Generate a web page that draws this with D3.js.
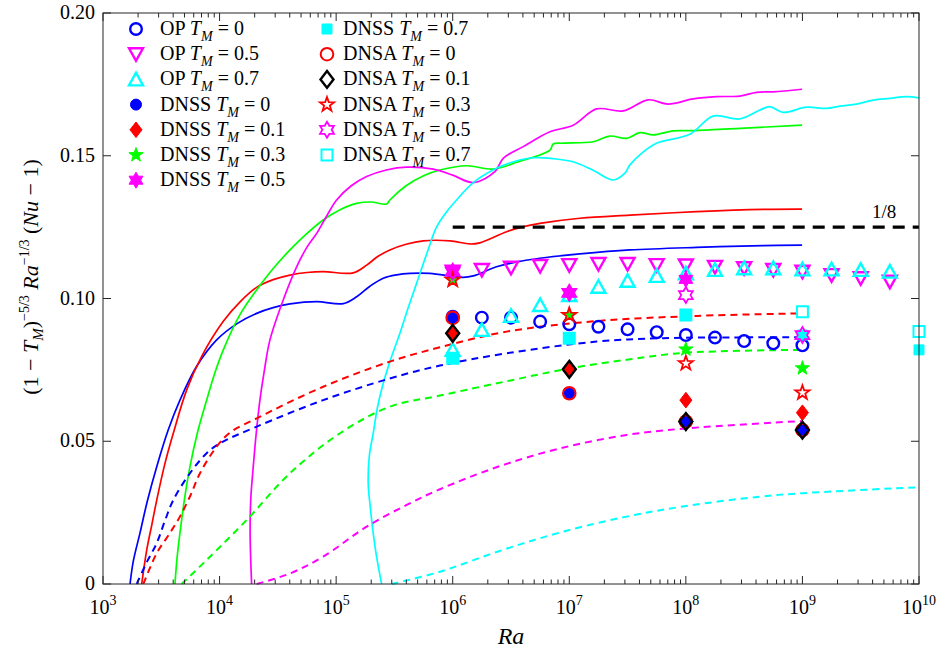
<!DOCTYPE html>
<html>
<head>
<meta charset="utf-8">
<script src="https://cdn.jsdelivr.net/npm/d3@7"></script>
<style>
  body { margin: 0; background: #fff; }
  svg { display: block; }
</style>
</head>
<body>
<svg id="chart"></svg>
<script>
// ---- data (x stored as log10(Ra)) ----
const opLgRa0 = [6, 6.25, 6.5, 6.75, 7, 7.25, 7.5, 7.75, 8, 8.25, 8.5, 8.75, 9];
const opLgRa = [6, 6.25, 6.5, 6.75, 7, 7.25, 7.5, 7.75, 8, 8.25, 8.5, 8.75, 9, 9.25, 9.5, 9.75];
const op0 = [0.0936, 0.0933, 0.0933, 0.0919, 0.0910, 0.0901, 0.0892, 0.0882, 0.0872, 0.0863, 0.0851, 0.0843, 0.0836];
const op05 = [0.1094, 0.1100, 0.1108, 0.1114, 0.1117, 0.1121, 0.1121, 0.1117, 0.1116, 0.1111, 0.1106, 0.1100, 0.1094, 0.1082, 0.1071, 0.1059];
const op07 = [0.0820, 0.0890, 0.0939, 0.0977, 0.1012, 0.1041, 0.1062, 0.1079, 0.1088, 0.1100, 0.1106, 0.1106, 0.1102, 0.1102, 0.1100, 0.1094];

const dnsLgRa = [6, 7, 8, 9];
const dnsLgRa07 = [6, 7, 8, 9, 10];
const dnss0 = [0.0932, 0.0668, 0.0569, 0.0539];
const dnss01 = [0.0878, 0.0752, 0.0644, 0.0600];
const dnss03 = [0.1065, 0.0942, 0.0822, 0.0756];
const dnss05 = [0.1094, 0.1020, 0.1067];
const dnss07 = [0.0791, 0.0861, 0.0942, 0.0872, 0.0820];
const dnsa0 = [0.0932, 0.0668, 0.0569, 0.0539];
const dnsa01 = [0.0878, 0.0752, 0.0569, 0.0539];
const dnsa03 = [0.1065, 0.0942, 0.0773, 0.0670];
const dnsa05 = [0.1094, 0.1020, 0.1012, 0.0872];
const dnsa07 = [0.0791, 0.0861, 0.0942, 0.0954, 0.0884];

// solid curves [log10 Ra, value]
const solidBlue = [[3.232,0],[3.260,0.0080],[3.317,0.0178],[3.380,0.0290],[3.461,0.0411],[3.560,0.0540],[3.660,0.0644],[3.800,0.0760],[3.975,0.0855],[4.150,0.0912],[4.318,0.0948],[4.460,0.0968],[4.604,0.0981],[4.833,0.0989],[5.061,0.0982],[5.176,0.1006],[5.290,0.1043],[5.404,0.1071],[5.520,0.1083],[5.633,0.1088],[5.804,0.1088],[6.090,0.1074],[6.176,0.1079],[6.376,0.1111],[6.550,0.1128],[6.748,0.1141],[7.091,0.1156],[7.520,0.1170],[8.092,0.1179],[8.663,0.1185],[8.997,0.1187]];
const solidRed = [[3.332,0],[3.375,0.0119],[3.420,0.0210],[3.461,0.0294],[3.530,0.0420],[3.603,0.0528],[3.718,0.0680],[3.850,0.0800],[4.032,0.0920],[4.180,0.0990],[4.318,0.1039],[4.460,0.1066],[4.604,0.1082],[4.750,0.1091],[4.889,0.1094],[5.147,0.1090],[5.262,0.1117],[5.360,0.1148],[5.461,0.1170],[5.600,0.1190],[5.747,0.1202],[5.976,0.1202],[6.147,0.1191],[6.233,0.1195],[6.462,0.1234],[6.600,0.1251],[6.748,0.1263],[7.091,0.1281],[7.520,0.1292],[8.092,0.1304],[8.663,0.1312],[8.997,0.1313]];
const solidGreen = [[3.617,0],[3.635,0.0090],[3.660,0.0178],[3.700,0.0300],[3.746,0.0411],[3.810,0.0530],[3.889,0.0644],[3.960,0.0740],[4.032,0.0820],[4.170,0.0940],[4.318,0.1030],[4.460,0.1105],[4.604,0.1170],[4.750,0.1228],[4.889,0.1275],[5.030,0.1310],[5.176,0.1333],[5.300,0.1338],[5.433,0.1331],[5.461,0.1345],[5.600,0.1395],[5.750,0.1430],[5.890,0.1450],[6.119,0.1465],[6.347,0.1453],[6.548,0.1477],[6.834,0.1520],[6.862,0.1541],[6.948,0.1544],[7.205,0.1549],[7.348,0.1569],[7.491,0.1561],[7.606,0.1581],[7.720,0.1573],[7.891,0.1587],[8.063,0.1588],[8.464,0.1596],[8.997,0.1607]];
const solidMagenta = [[4.275,0],[4.262,0.0178],[4.268,0.0300],[4.289,0.0411],[4.315,0.0530],[4.346,0.0644],[4.385,0.0750],[4.432,0.0855],[4.546,0.0995],[4.661,0.1111],[4.750,0.1180],[4.833,0.1228],[4.920,0.1290],[5.004,0.1345],[5.130,0.1395],[5.262,0.1427],[5.430,0.1450],[5.605,0.1460],[5.833,0.1453],[6.000,0.1432],[6.176,0.1406],[6.362,0.1444],[6.433,0.1491],[6.605,0.1532],[6.834,0.1584],[7.033,0.1607],[7.234,0.1664],[7.462,0.1657],[7.677,0.1696],[7.848,0.1681],[8.063,0.1699],[8.263,0.1707],[8.463,0.1709],[8.606,0.1722],[8.749,0.1724],[8.997,0.1733]];
const solidCyan = [[5.390,0],[5.345,0.0100],[5.318,0.0178],[5.290,0.0280],[5.275,0.0353],[5.285,0.0450],[5.318,0.0528],[5.355,0.0620],[5.404,0.0703],[5.470,0.0790],[5.547,0.0878],[5.620,0.0970],[5.690,0.1053],[5.780,0.1160],[5.862,0.1251],[5.950,0.1305],[6.033,0.1345],[6.176,0.1406],[6.376,0.1456],[6.530,0.1480],[6.690,0.1493],[6.860,0.1490],[7.033,0.1479],[7.200,0.1450],[7.377,0.1415],[7.477,0.1439],[7.520,0.1468],[7.630,0.1512],[7.749,0.1544],[8.034,0.1575],[8.234,0.1639],[8.463,0.1629],[8.635,0.1660],[8.720,0.1672],[8.834,0.1652],[9.035,0.1670],[9.207,0.1666],[9.321,0.1674],[9.464,0.1681],[9.606,0.1695],[9.750,0.1701],[9.893,0.1707],[10.0,0.1703]];

// dashed curves
const dashBlue = [[3.289,0],[3.380,0.0080],[3.461,0.0143],[3.530,0.0220],[3.603,0.0294],[3.746,0.0388],[3.889,0.0458],[4.003,0.0493],[4.318,0.0551],[4.889,0.0644],[5.461,0.0720],[5.890,0.0765],[6.462,0.0808],[7.234,0.0849],[7.805,0.0861],[8.663,0.0864],[8.997,0.0864]];
const dashRed = [[3.346,0],[3.461,0.0108],[3.560,0.0170],[3.660,0.0236],[3.750,0.0310],[3.832,0.0388],[3.975,0.0481],[4.089,0.0530],[4.318,0.0580],[4.889,0.0691],[5.461,0.0779],[5.890,0.0829],[6.462,0.0884],[7.234,0.0921],[8.092,0.0939],[8.997,0.0948]];
const dashGreen = [[3.675,0],[3.889,0.0084],[4.232,0.0224],[4.604,0.0388],[5.033,0.0528],[5.461,0.0621],[5.890,0.0660],[6.462,0.0710],[6.999,0.0755],[7.520,0.0787],[8.0,0.0810],[8.997,0.0820]];
const dashMagenta = [[4.318,0],[4.604,0.0037],[4.889,0.0096],[5.262,0.0201],[5.605,0.0277],[5.890,0.0332],[6.405,0.0413],[6.919,0.0475],[7.491,0.0522],[8.0,0.0545],[9.001,0.0571]];
const dashCyan = [[5.476,0],[5.890,0.0043],[6.405,0.0116],[6.919,0.0180],[7.491,0.0236],[8.0,0.0273],[8.635,0.0306],[9.001,0.0318],[10.0,0.0339]];

const refLgRa = [6, 10];
const refValue = 0.125;

const xTickExp = [3, 4, 5, 6, 7, 8, 9, 10];
const yTicks = [0, 0.05, 0.10, 0.15, 0.20];

// ---- setup ----
const width = 940, height = 652;
const margin = { top: 13, right: 21, bottom: 68, left: 103 };
const serif = 'Liberation Serif, Times New Roman, Times, DejaVu Serif, serif';
const svg = d3.select('#chart').attr('width', width).attr('height', height)
    .attr('font-family', serif);

const x = d3.scaleLog().domain([1e3, 1e10]).range([margin.left, width - margin.right]);
const y = d3.scaleLinear().domain([0, 0.2]).range([height - margin.bottom, margin.top]);
const X = lg => x(Math.pow(10, lg));

// marker shapes
function starPath(n, R, r) {
    const pts = [];
    for (let i = 0; i < 2 * n; i++) {
        const a = -Math.PI / 2 + i * Math.PI / n;
        const rad = i % 2 ? r : R;
        pts.push([rad * Math.cos(a), rad * Math.sin(a)]);
    }
    return 'M' + pts.map(p => p[0].toFixed(2) + ',' + p[1].toFixed(2)).join('L') + 'Z';
}
const shapes = {
    circle: r => `M${r},0A${r},${r} 0 1,1 ${-r},0A${r},${r} 0 1,1 ${r},0Z`,
    triDown: s => `M${-s},${-s * 0.85}L${s},${-s * 0.85}L0,${s * 0.95}Z`,
    triUp: s => `M${-s},${s * 0.85}L${s},${s * 0.85}L0,${-s * 0.95}Z`,
    diamond: s => `M0,${-s * 1.3}L${s},0L0,${s * 1.3}L${-s},0Z`,
    square: s => `M${-s},${-s}L${s},${-s}L${s},${s}L${-s},${s}Z`,
    penta: s => starPath(5, s, s * 0.4),
    hexa: s => starPath(6, s, s * 0.58)
};

// series styles
const series = [
    { label: 'OP', tm: '0', lg: opLgRa0, v: op0, shape: 'circle', size: 5.8, fill: 'none', stroke: '#0000ff', sw: 2.4 },
    { label: 'OP', tm: '0.5', lg: opLgRa, v: op05, shape: 'triDown', size: 7, fill: 'none', stroke: '#ff00ff', sw: 2.4 },
    { label: 'OP', tm: '0.7', lg: opLgRa, v: op07, shape: 'triUp', size: 7, fill: 'none', stroke: '#00ffff', sw: 2.4 },
    { label: 'DNSS', tm: '0', lg: dnsLgRa, v: dnss0, shape: 'circle', size: 5.5, fill: '#0000ff', stroke: '#0000ff', sw: 1 },
    { label: 'DNSS', tm: '0.1', lg: dnsLgRa, v: dnss01, shape: 'diamond', size: 6, fill: '#ff0000', stroke: '#ff0000', sw: 1 },
    { label: 'DNSS', tm: '0.3', lg: dnsLgRa, v: dnss03, shape: 'penta', size: 7.5, fill: '#00ff00', stroke: '#00ff00', sw: 1 },
    { label: 'DNSS', tm: '0.5', lg: dnsLgRa, v: dnss05, shape: 'hexa', size: 8, fill: '#ff00ff', stroke: '#ff00ff', sw: 1 },
    { label: 'DNSS', tm: '0.7', lg: dnsLgRa07, v: dnss07, shape: 'square', size: 5, fill: '#00ffff', stroke: '#00ffff', sw: 1 },
    { label: 'DNSA', tm: '0', lg: dnsLgRa, v: dnsa0, shape: 'circle', size: 6.3, fill: 'none', stroke: '#ff0000', sw: 2 },
    { label: 'DNSA', tm: '0.1', lg: dnsLgRa, v: dnsa01, shape: 'diamond', size: 6.5, fill: 'none', stroke: '#000000', sw: 2.4 },
    { label: 'DNSA', tm: '0.3', lg: dnsLgRa, v: dnsa03, shape: 'penta', size: 7.5, fill: 'none', stroke: '#ff0000', sw: 1.8 },
    { label: 'DNSA', tm: '0.5', lg: dnsLgRa, v: dnsa05, shape: 'hexa', size: 8, fill: 'none', stroke: '#ff00ff', sw: 1.8 },
    { label: 'DNSA', tm: '0.7', lg: dnsLgRa07, v: dnsa07, shape: 'square', size: 5.5, fill: 'none', stroke: '#00ffff', sw: 2 }
];

const axisColor = '#262626';
const x0 = margin.left, x1 = width - margin.right, y0 = height - margin.bottom, y1 = margin.top;

// curves
const line = d3.line().curve(d3.curveCatmullRom.alpha(0.5)).x(d => X(d[0])).y(d => y(d[1]));
const straight = d3.line().x(d => X(d[0])).y(d => y(d[1]));
const solids = [[solidBlue, '#0000ff'], [solidRed, '#ff0000'], [solidGreen, '#00ff00'], [solidMagenta, '#ff00ff'], [solidCyan, '#00ffff']];
const dashes = [[dashBlue, '#0000ff'], [dashRed, '#ff0000'], [dashGreen, '#00ff00'], [dashMagenta, '#ff00ff'], [dashCyan, '#00ffff']];

solids.forEach(([d, c]) => {
    svg.append('path').datum(d).attr('fill', 'none').attr('stroke', c)
        .attr('stroke-width', 1.7).attr('stroke-linejoin', 'round').attr('d', line);
});
dashes.forEach(([d, c]) => {
    svg.append('path').datum(d).attr('fill', 'none').attr('stroke', c)
        .attr('stroke-width', 2).attr('stroke-dasharray', '7,5').attr('d', line);
});

// 1/8 reference line
svg.append('path').datum(refLgRa.map(lg => [lg, refValue]))
    .attr('fill', 'none').attr('stroke', '#000').attr('stroke-width', 3.2)
    .attr('stroke-dasharray', '12,8').attr('d', straight);
svg.append('text').attr('x', X(9.7)).attr('y', y(refValue) - 9)
    .attr('text-anchor', 'middle').style('font-size', '19px').text('1/8');

// markers
series.forEach(s => {
    svg.append('g').selectAll('path').data(s.v).join('path')
        .attr('transform', (v, i) => `translate(${X(s.lg[i])},${y(v)})`)
        .attr('d', shapes[s.shape](s.size))
        .attr('fill', s.fill).attr('stroke', s.stroke).attr('stroke-width', s.sw)
        .attr('stroke-linejoin', 'miter');
});

// box
svg.append('rect').attr('x', x0).attr('y', y1).attr('width', x1 - x0).attr('height', y0 - y1)
    .attr('fill', 'none').attr('stroke', axisColor).attr('stroke-width', 1);

// x ticks (log, major + minor), inward on bottom and top
const tickG = svg.append('g').attr('stroke', axisColor).attr('stroke-width', 1);
xTickExp.forEach((e, k) => {
    const maj = Math.pow(10, e);
    [[y0, -1], [y1, 1]].forEach(([yy, dir]) => {
        tickG.append('line').attr('x1', x(maj)).attr('x2', x(maj)).attr('y1', yy).attr('y2', yy + dir * 8);
    });
    if (k < xTickExp.length - 1) {
        d3.range(2, 10).forEach(m => {
            const xv = x(m * maj);
            [[y0, -1], [y1, 1]].forEach(([yy, dir]) => {
                tickG.append('line').attr('x1', xv).attr('x2', xv).attr('y1', yy).attr('y2', yy + dir * 4.5);
            });
        });
    }
    const t = svg.append('text').attr('x', x(maj)).attr('y', y0 + 30).attr('text-anchor', 'middle')
        .style('font-size', '20px');
    t.append('tspan').text('10');
    t.append('tspan').attr('dy', -9).style('font-size', '14px').text(e);
});

// y ticks, inward on left and right
yTicks.forEach(v => {
    tickG.append('line').attr('x1', x0).attr('x2', x0 + 8).attr('y1', y(v)).attr('y2', y(v));
    tickG.append('line').attr('x1', x1).attr('x2', x1 - 8).attr('y1', y(v)).attr('y2', y(v));
    svg.append('text').attr('x', x0 - 8).attr('y', y(v) + 6).attr('text-anchor', 'end')
        .style('font-size', '20px').text(v === 0 ? '0' : v.toFixed(2));
});

// axis labels
svg.append('text').attr('x', (x0 + x1) / 2).attr('y', 644).attr('text-anchor', 'middle')
    .style('font-size', '24px').style('font-style', 'italic').text('Ra');

const yl = svg.append('text')
    .attr('transform', `translate(38,277) rotate(-90)`)
    .attr('text-anchor', 'middle').style('font-size', '22px');
yl.append('tspan').text('(1 − ');
yl.append('tspan').style('font-style', 'italic').text('T');
yl.append('tspan').attr('dy', 5).style('font-style', 'italic').style('font-size', '15px').text('M');
yl.append('tspan').attr('dy', -5).text(')');
yl.append('tspan').attr('dy', -9).style('font-size', '14px').text('−5/3');
yl.append('tspan').attr('dy', 9).text(' ');
yl.append('tspan').style('font-style', 'italic').text('Ra');
yl.append('tspan').attr('dy', -9).style('font-size', '14px').text('−1/3');
yl.append('tspan').attr('dy', 9).text(' (');
yl.append('tspan').style('font-style', 'italic').text('Nu');
yl.append('tspan').text(' − 1)');

// legend
const legend = svg.append('g');
series.forEach((s, i) => {
    const col = i < 7 ? 0 : 1;
    const row = i < 7 ? i : i - 7;
    const mx = col === 0 ? 136 : 327;
    const tx = col === 0 ? 160 : 343;
    const ry = 29 + row * 25.2;
    legend.append('path').attr('transform', `translate(${mx},${ry})`)
        .attr('d', shapes[s.shape](s.size))
        .attr('fill', s.fill).attr('stroke', s.stroke).attr('stroke-width', s.sw);
    const t = legend.append('text').attr('x', tx).attr('y', ry + 6).style('font-size', '20px');
    t.append('tspan').text(s.label + ' ');
    t.append('tspan').style('font-style', 'italic').text('T');
    t.append('tspan').attr('dy', 6).style('font-style', 'italic').style('font-size', '14px').text('M');
    t.append('tspan').attr('dy', -6).text(' = ' + s.tm);
});
</script>
</body>
</html>
